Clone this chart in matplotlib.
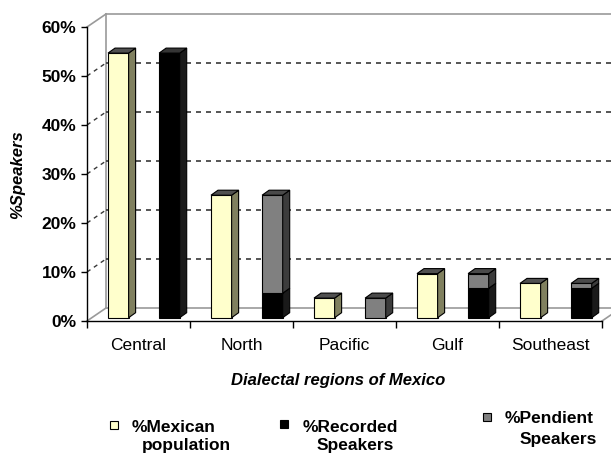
import matplotlib
matplotlib.use("Agg")

import matplotlib.pyplot as plt
from matplotlib.patches import Polygon, Rectangle

plt.rcParams["font.family"] = ["Liberation Sans", "DejaVu Sans"]

regions = ["Central", "North", "Pacific", "Gulf", "Southeast"]
mexican_population = [54, 25, 4, 9, 7]
recorded_speakers = [54, 5, 0, 6, 6]
pendient_speakers = [0, 20, 4, 3, 1]
y_ticks = [0, 10, 20, 30, 40, 50, 60]

W, H = 611, 454
fig = plt.figure(figsize=(W / 100, H / 100), dpi=100)
ax = fig.add_axes([87 / W, 1 - 321 / H, 515 / W, 294 / H])
ax.set_xlim(-0.5, len(regions) - 0.5)
ax.set_ylim(0, 60)

# pixel -> data conversion for the fake 3D depth
px_x = len(regions) / 515
px_y = 60 / 294
wall_dx, wall_dy = 19 * px_x, 13 * px_y
bar_dx, bar_dy = 7 * px_x, 5 * px_y
base = 3.3 * px_y
bar_w = 0.2
x0, x1 = -0.5, len(regions) - 0.5

wall_col = "#9a9a9a"
grid_col = "#383838"

# back wall, floor and left wall
ax.plot([x0 + wall_dx, x1 + wall_dx], [60 + wall_dy] * 2, color=wall_col, lw=1.2, clip_on=False, zorder=1)
ax.plot([x0 + wall_dx, x1 + wall_dx], [wall_dy] * 2, color=wall_col, lw=1.2, clip_on=False, zorder=1)
ax.plot([x0 + wall_dx] * 2, [wall_dy, 60 + wall_dy], color=wall_col, lw=1.2, clip_on=False, zorder=1)
ax.plot([x0, x0 + wall_dx], [60, 60 + wall_dy], color=wall_col, lw=1.2, clip_on=False, zorder=1)
ax.plot([x0, x0 + wall_dx], [0, wall_dy], color=wall_col, lw=1.2, clip_on=False, zorder=1)
ax.plot([x1, x1 + wall_dx], [0, wall_dy], color=wall_col, lw=1.2, clip_on=False, zorder=1)
for v in y_ticks[1:-1]:
    ax.plot([x0 + wall_dx, x1 + wall_dx], [v + wall_dy] * 2, color=grid_col,
            lw=1.2, ls=(0, (3, 3)), clip_on=False, zorder=1)
    ax.plot([x0, x0 + wall_dx], [v, v + wall_dy], color=grid_col,
            lw=1.0, ls=(0, (3, 3)), clip_on=False, zorder=1)


def box(left, bottom, top, face, side, cap, draw_top=True):
    if top <= bottom:
        return
    ax.bar(left, top - bottom, width=bar_w, bottom=bottom, align="edge",
           color=face, edgecolor="black", linewidth=0.8, zorder=3)
    right = left + bar_w
    ax.add_patch(Polygon([(right, bottom), (right + bar_dx, bottom + bar_dy),
                          (right + bar_dx, top + bar_dy), (right, top)],
                         closed=True, facecolor=side, edgecolor="black", lw=0.8, zorder=3))
    if draw_top:
        ax.add_patch(Polygon([(left, top), (left + bar_dx, top + bar_dy),
                              (right + bar_dx, top + bar_dy), (right, top)],
                             closed=True, facecolor=cap, edgecolor="black", lw=0.8, zorder=3))


pop_off, rec_off = -0.296, 0.2
for i in range(len(regions)):
    box(i + pop_off, base, base + mexican_population[i], "#FFFFCC", "#80805F", "#505050")
    rec_top = base + recorded_speakers[i]
    box(i + rec_off, base, rec_top, "#000000", "#1a1a1a", "#353535",
        draw_top=pendient_speakers[i] == 0)
    box(i + rec_off, rec_top, rec_top + pendient_speakers[i], "#808080", "#3c3c3c", "#4a4a4a")

# axes styling
for s in ["top", "right"]:
    ax.spines[s].set_visible(False)
ax.spines["left"].set_linewidth(1.0)
ax.spines["bottom"].set_linewidth(1.0)
ax.set_facecolor("none")
ax.set_yticks(y_ticks)
ax.set_yticklabels([f"{v}%" for v in y_ticks], fontsize=12.5, fontweight="bold")
ax.tick_params(axis="y", direction="out", length=4, width=1, pad=3.5)
ax.set_xticks(range(len(regions)))
ax.set_xticklabels(regions, fontsize=12.5)
ax.set_xticks([x0 + k for k in range(len(regions) + 1)], minor=True)
ax.tick_params(axis="x", which="major", length=0, pad=12.5)
ax.tick_params(axis="x", which="minor", direction="out", length=5, width=1)

fig.text(338 / W, 1 - 385 / H, "Dialectal regions of Mexico", ha="center", va="baseline",
         fontsize=12, fontweight="bold", fontstyle="italic")
fig.text(18 / W, 1 - 175 / H, "%Speakers", ha="center", va="center", rotation=90,
         fontsize=12, fontweight="bold", fontstyle="italic")

# legend, staggered like the original
legend_items = [
    ("#FFFFCC", 110, 425, "%Mexican", 132, 432, "population", 142, 450),
    ("#000000", 280, 424, "%Recorded", 303, 432, "Speakers", 317, 450),
    ("#808080", 483, 417, "%Pendient", 505, 423, "Speakers", 520, 444),
]
for col, sx, sy, l1, t1x, t1y, l2, t2x, t2y in legend_items:
    fig.add_artist(Rectangle((sx / W, 1 - (sy + 4) / H), 8 / W, 8 / H,
                             transform=fig.transFigure, facecolor=col,
                             edgecolor="black", lw=0.8))
    fig.text(t1x / W, 1 - t1y / H, l1, ha="left", va="baseline", fontsize=12.5, fontweight="bold")
    fig.text(t2x / W, 1 - t2y / H, l2, ha="left", va="baseline", fontsize=12.5, fontweight="bold")

fig.savefig("out.png", dpi=100)
